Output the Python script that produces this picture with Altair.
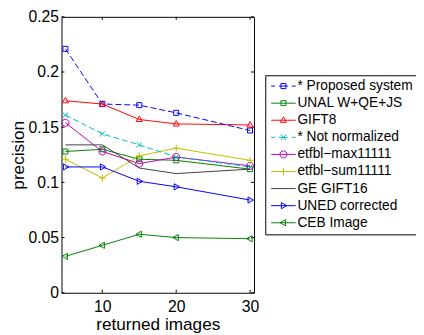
import altair as alt
import pandas as pd

x_vals = [5, 10, 15, 20, 30]
series_names = ["* Proposed system", "UNAL W+QE+JS", "GIFT8", "* Not normalized",
                "etfbl\u2212max11111", "etfbl\u2212sum11111", "GE GIFT16",
                "UNED corrected", "CEB Image"]
proposed = [0.221, 0.171, 0.170, 0.163, 0.147]
unal = [0.128, 0.130, 0.121, 0.120, 0.112]
gift8 = [0.174, 0.171, 0.157, 0.153, 0.152]
not_norm = [0.161, 0.144, 0.134, 0.123, 0.114]
etf_max = [0.154, 0.128, 0.117, 0.123, 0.115]
etf_sum = [0.121, 0.104, 0.124, 0.131, 0.120]
ge_gift16 = [0.134, 0.134, 0.113, 0.108, 0.112]
uned = [0.114, 0.114, 0.101, 0.096, 0.084]
ceb = [0.033, 0.043, 0.053, 0.050, 0.049]
y_ticks = [0, 0.05, 0.1, 0.15, 0.2, 0.25]
x_ticks = [10, 20, 30]

values = [proposed, unal, gift8, not_norm, etf_max, etf_sum, ge_gift16, uned, ceb]
colors = ["#0000FF", "#008000", "#FF0000", "#00BFBF", "#BF00BF", "#BFBF00",
          "#404040", "#0000FF", "#008000"]
dashed = [True, False, False, True, False, False, False, False, False]
markers = ["square", "square", "tri_up", "x", "circle", "plus", "none", "tri_right", "tri_left"]


def marker_path(kind, s=1.0, cx=0.0):
    def p(x, y):
        return f"{cx + x * s:.3f},{y * s:.3f}"
    if kind == "square":
        a = 0.85
        return f"M{p(-a,-a)}L{p(a,-a)}L{p(a,a)}L{p(-a,a)}Z"
    if kind == "tri_up":
        return f"M{p(0,-1.15)}L{p(1.05,0.7)}L{p(-1.05,0.7)}Z"
    if kind == "tri_right":
        return f"M{p(1.15,0)}L{p(-0.7,1.05)}L{p(-0.7,-1.05)}Z"
    if kind == "tri_left":
        return f"M{p(-1.15,0)}L{p(0.7,1.05)}L{p(0.7,-1.05)}Z"
    if kind == "x":
        a = 0.9
        return f"M{p(-a,-a)}L{p(a,a)}M{p(-a,a)}L{p(a,-a)}"
    if kind == "plus":
        a = 1.2
        return f"M{p(-a,0)}L{p(a,0)}M{p(0,-a)}L{p(0,a)}"
    if kind == "circle":
        r = 1.2 * s
        return (f"M{cx + r:.3f},0A{r:.3f},{r:.3f},0,1,1,{cx - r:.3f},0"
                f"A{r:.3f},{r:.3f},0,1,1,{cx + r:.3f},0Z")
    return "M0,0"


def legend_path(kind, is_dashed):
    if is_dashed:
        line = "M-1.0,0L-0.2,0M0.6,0L2.4,0M3.2,0L4.0,0"
    else:
        line = "M-1.0,0L4.0,0"
    if kind == "none":
        return line
    return line + marker_path(kind, s=0.6, cx=1.5)


rows = []
for name, vals, mk, d in zip(series_names, values, markers, dashed):
    for xv, yv in zip(x_vals, vals):
        rows.append({"series": name, "x": xv, "y": yv, "marker": marker_path(mk),
                     "dashed": d})
df = pd.DataFrame(rows)

color_scale = alt.Scale(domain=series_names, range=colors)
legend_shape_scale = alt.Scale(domain=series_names,
                               range=[legend_path(m, d) for m, d in zip(markers, dashed)])

x_scale = alt.Scale(domain=[4.47, 30.53], nice=False, zero=False)
y_scale = alt.Scale(domain=[0, 0.25], nice=False)

font = "Liberation Sans"
legend_spec = alt.Legend(title=None, orient="none", legendX=207.5, legendY=59.5)

base = alt.Chart(df)

x_enc = alt.X("x:Q", scale=x_scale,
              axis=alt.Axis(values=x_ticks, title="returned images", grid=False,
                            ticks=False, domain=False, labelFont=font, labelFontSize=16,
                            labelColor="black", labelPadding=6, titleFont=font,
                            titleFontSize=17.5, titleFontWeight="normal",
                            titleColor="black", titlePadding=1))
y_enc = alt.Y("y:Q", scale=y_scale,
              axis=alt.Axis(values=y_ticks, format=".2~f", title="precision", grid=False,
                            ticks=False, domain=False, labelFont=font, labelFontSize=16,
                            labelColor="black", labelPadding=3, titleFont=font,
                            titleFontSize=17.5, titleFontWeight="normal",
                            titleColor="black", titlePadding=1))
color_enc = alt.Color("series:N", scale=color_scale, legend=legend_spec)

solid_lines = base.transform_filter(alt.datum.dashed == False).mark_line(
    strokeWidth=1).encode(x=x_enc, y=y_enc, color=color_enc)
dashed_lines = base.transform_filter(alt.datum.dashed == True).mark_line(
    strokeWidth=1, strokeDash=[6, 3]).encode(x=x_enc, y=y_enc, color=color_enc)

points = base.transform_filter(alt.datum.marker != "M0,0").mark_point(
    filled=False, size=36, strokeWidth=1, opacity=1).encode(
    x=x_enc, y=y_enc, color=color_enc,
    shape=alt.Shape("marker:N", scale=None, legend=None),
)

legend_layer = base.transform_filter("false").mark_point(
    filled=False, strokeWidth=1, opacity=1).encode(
    x=x_enc, y=y_enc, color=color_enc,
    shape=alt.Shape("series:N", scale=legend_shape_scale, legend=legend_spec),
)

ytick_df = pd.DataFrame({"y": y_ticks})
xtick_df = pd.DataFrame({"x": x_ticks})
ytl = alt.Chart(ytick_df).mark_rule(color="black", strokeWidth=1).encode(
    y=y_enc, x=alt.value(0), x2=alt.value(3))
ytr = alt.Chart(ytick_df).mark_rule(color="black", strokeWidth=1).encode(
    y=y_enc, x=alt.value(193), x2=alt.value(196))
xtb = alt.Chart(xtick_df).mark_rule(color="black", strokeWidth=1).encode(
    x=x_enc, y=alt.value(281), y2=alt.value(278))
xtt = alt.Chart(xtick_df).mark_rule(color="black", strokeWidth=1).encode(
    x=x_enc, y=alt.value(0), y2=alt.value(3))

chart = alt.layer(ytl, ytr, xtb, xtt, solid_lines, dashed_lines, points,
                  legend_layer).properties(
    width=196, height=281,
    autosize=alt.AutoSizeParams(type="none"),
    padding={"left": 54.5, "top": 6, "right": 165, "bottom": 40},
).configure_view(stroke="black", strokeWidth=1).configure_legend(
    symbolSize=100, symbolStrokeWidth=1, labelFont=font, labelFontSize=14,
    labelColor="black", labelOffset=14.7, rowPadding=3.4, padding=4,
    strokeColor="black", fillColor="white", cornerRadius=0, labelLimit=300,
)

chart.save("out.html", embed_options={"renderer": "svg", "actions": False})
